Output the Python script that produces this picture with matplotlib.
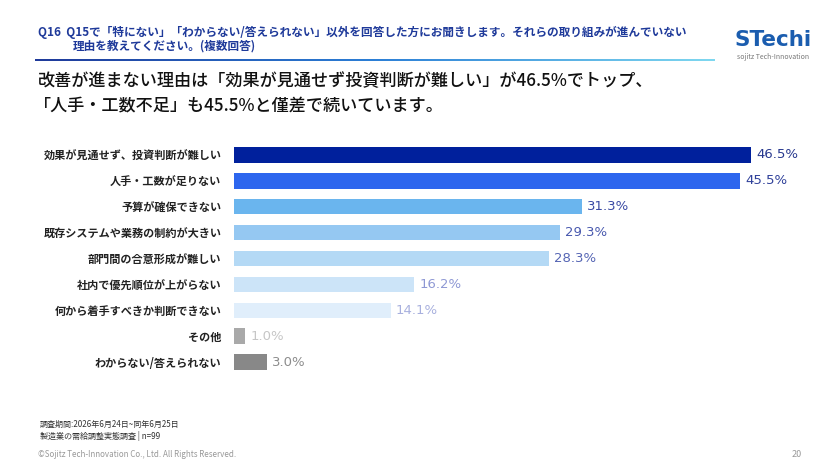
import matplotlib
matplotlib.use("Agg")
import matplotlib.pyplot as plt
import numpy as np

plt.rcParams['font.family'] = ['Noto Sans CJK JP', 'DejaVu Sans']

# データ
categories = [
    "効果が見通せず、投資判断が難しい",
    "人手・工数が足りない",
    "予算が確保できない",
    "既存システムや業務の制約が大きい",
    "部門間の合意形成が難しい",
    "社内で優先順位が上がらない",
    "何から着手すべきか判断できない",
    "その他",
    "わからない/答えられない",
]
values = [46.5, 45.5, 31.3, 29.3, 28.3, 16.2, 14.1, 1.0, 3.0]

bar_colors = ["#00209C", "#2D66EE", "#6AB5EE", "#95C8F2", "#B4D9F5",
              "#CCE4F8", "#E0EEFB", "#A9A9A9", "#888888"]
label_colors = ["#27388E", "#2F409A", "#3A4AA4", "#4858AE", "#5565B4",
                "#8E98D4", "#A8B0DE", "#C6C6C6", "#8C8C8C"]

W, H = 840, 473
fig = plt.figure(figsize=(W / 100, H / 100), dpi=100)

def fx(px):
    return px / W

def fy(py):
    return 1 - py / H

# 設問テキスト
q_color = "#1F3A9A"
fig.text(fx(38), fy(32), "Q16  Q15で「特にない」「わからない/答えられない」以外を回答した方にお聞きします。それらの取り組みが進んでいない",
         fontsize=8.4, color=q_color, va="center", fontweight="bold")
fig.text(fx(73), fy(46), "理由を教えてください。(複数回答)",
         fontsize=8.4, color=q_color, va="center", fontweight="bold")

# グラデーションの線
ax_line = fig.add_axes([fx(35), fy(61), fx(715) - fx(35), 2.5 / H])
grad = np.linspace(0, 1, 256).reshape(1, -1)
cmap = matplotlib.colors.LinearSegmentedColormap.from_list("g", ["#1F3A9A", "#2C7FD6", "#7FD8F0"])
ax_line.imshow(grad, aspect="auto", cmap=cmap)
ax_line.axis("off")

# ロゴ
fig.text(fx(773), fy(40), "STechi", fontsize=15.5, color="#1B5DAF", fontweight="bold",
         ha="center", va="center", family=["DejaVu Sans"])
fig.text(fx(773), fy(57), "sojitz Tech-Innovation", fontsize=5, color="#777777",
         ha="center", va="center")

# 見出し
fig.text(fx(38), fy(81), "改善が進まない理由は「効果が見通せず投資判断が難しい」が46.5%でトップ、",
         fontsize=12.3, color="#111111", va="center", fontweight="medium")
fig.text(fx(34), fy(106), "「人手・工数不足」も45.5%と僅差で続いています。",
         fontsize=12.3, color="#111111", va="center", fontweight="medium")

# 棒グラフ
ax_top, ax_bot = 142, 375
ax = fig.add_axes([fx(234), fy(ax_bot), fx(790) - fx(234), (ax_bot - ax_top) / H])
y = np.arange(len(categories))
ax.barh(y, values, height=0.6, color=bar_colors)
ax.set_xlim(0, 50)
ax.set_ylim(len(categories) - 0.5, -0.5)
for i, v in enumerate(values):
    ax.text(v + 0.45, i, f"{v:.1f}%", va="center", ha="left",
            fontsize=9.5, color=label_colors[i], family=["DejaVu Sans"])
ax.set_yticks(y)
ax.set_yticklabels(categories, fontsize=8.0, fontweight="bold", color="#222222")
ax.tick_params(axis="y", length=0, pad=9)
ax.set_xticks([])
for s in ax.spines.values():
    s.set_visible(False)

# フッター
fig.text(fx(40), fy(424), "調査期間:2026年6月24日~同年6月25日", fontsize=5.8, color="#333333", va="center")
fig.text(fx(40), fy(436), "製造業の需給調整実態調査 | n=99", fontsize=5.8, color="#333333", va="center")
fig.text(fx(38), fy(454), "©Sojitz Tech-Innovation Co., Ltd. All Rights Reserved.", fontsize=5.8,
         color="#999999", va="center")
fig.text(fx(802), fy(454), "20", fontsize=6.5, color="#999999", va="center", ha="right")

fig.savefig("out.png", dpi=100, facecolor="white")
